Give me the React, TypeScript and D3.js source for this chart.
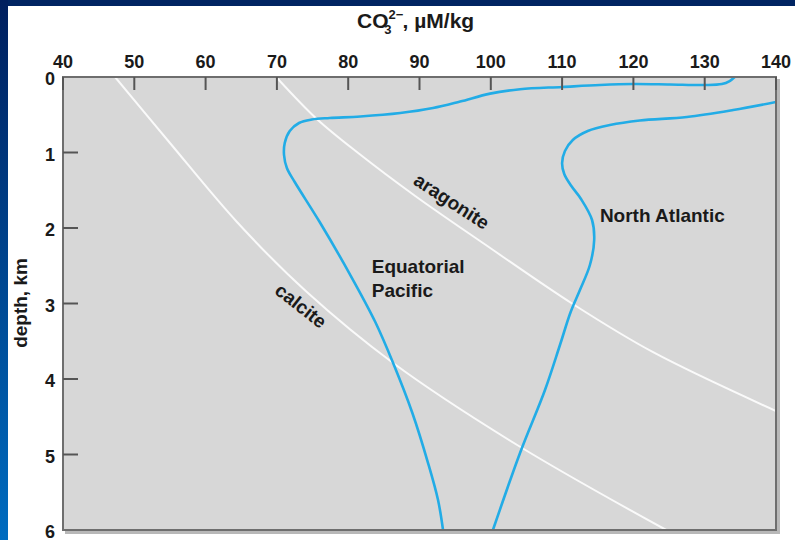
import React, { useEffect, useRef } from 'react';
import * as d3 from 'd3';

// carbonate ion concentration (µM/kg) vs depth (km)
const xTicks = [40, 50, 60, 70, 80, 90, 100, 110, 120, 130, 140];
const yTicks = [0, 1, 2, 3, 4, 5, 6];

const pacificCO3 = [134.2, 133.5, 132.4, 130.0, 125.1, 119.9, 115.3, 110.0, 104.1, 99.9, 95.7, 91.9, 87.3, 81.7, 77.4, 74.9, 73.1, 71.8, 71.1, 71.0, 71.4, 72.5, 76.0, 80.3, 83.8, 86.3, 89.0, 91.2, 92.6, 93.3];
const pacificDepth = [0, 0.053, 0.093, 0.106, 0.099, 0.093, 0.106, 0.132, 0.162, 0.22, 0.325, 0.411, 0.477, 0.523, 0.543, 0.563, 0.609, 0.715, 0.874, 1.033, 1.205, 1.391, 1.921, 2.623, 3.245, 3.788, 4.45, 5.113, 5.603, 6.0];

const atlanticCO3 = [140.0, 134.0, 127.5, 120.9, 116.7, 113.6, 111.5, 110.4, 110.0, 110.3, 111.3, 112.65, 114.2, 114.5, 113.9, 112.5, 111.2, 109.7, 107.6, 104.1, 100.3];
const atlanticDepth = [0.331, 0.437, 0.53, 0.576, 0.636, 0.715, 0.834, 0.98, 1.139, 1.285, 1.444, 1.616, 1.894, 2.159, 2.49, 2.821, 3.113, 3.55, 4.146, 4.98, 6.0];

const calciteCO3 = [47.3, 55.0, 64.4, 74.2, 86.3, 103.7, 124.6];
const calciteDepth = [0, 0.874, 1.921, 2.848, 3.788, 4.874, 6.0];

const aragoniteCO3 = [69.9, 75.6, 81.4, 89.4, 98.9, 111.5, 122.7, 140.0];
const aragoniteDepth = [0, 0.556, 1.007, 1.576, 2.199, 3.007, 3.642, 4.424];

const FONT = 'Arial, "Liberation Sans", Helvetica, sans-serif';

const App = () => {
  const svgRef = useRef<SVGSVGElement>(null);

  useEffect(() => {
    const W = 795;
    const H = 540;
    const margin = { top: 77, right: 19, bottom: 10, left: 63 };

    d3.select(svgRef.current).selectAll('*').remove();
    const svg = d3.select(svgRef.current).attr('width', W).attr('height', H);

    // slide background: navy band on top, blue gradient on the left
    const defs = svg.append('defs');
    const grad = defs
      .append('linearGradient')
      .attr('id', 'sideGrad')
      .attr('x1', 0)
      .attr('y1', 0)
      .attr('x2', 0)
      .attr('y2', 1);
    grad.append('stop').attr('offset', '0%').attr('stop-color', '#001f5e');
    grad.append('stop').attr('offset', '100%').attr('stop-color', '#006cc0');

    svg.append('rect').attr('width', W).attr('height', H).attr('fill', '#ffffff');
    svg.append('rect').attr('width', W).attr('height', 6).attr('fill', '#002462');
    svg.append('rect').attr('width', 8).attr('height', H).attr('fill', 'url(#sideGrad)');

    const x = d3.scaleLinear().domain([40, 140]).range([margin.left, W - margin.right]);
    const y = d3.scaleLinear().domain([0, 6]).range([margin.top, H - margin.bottom]);
    const [x0, x1] = x.range();
    const [y0, y1] = y.range();

    defs
      .append('clipPath')
      .attr('id', 'plotClip')
      .append('rect')
      .attr('x', x0)
      .attr('y', y0)
      .attr('width', x1 - x0)
      .attr('height', y1 - y0);

    // shadow + panel
    svg
      .append('rect')
      .attr('x', x0 + 2)
      .attr('y', y0 + 2)
      .attr('width', x1 - x0 + 2)
      .attr('height', y1 - y0 + 2)
      .attr('fill', '#b8b8b8');
    svg
      .append('rect')
      .attr('x', x0)
      .attr('y', y0)
      .attr('width', x1 - x0)
      .attr('height', y1 - y0)
      .attr('fill', '#d7d7d7');

    // curves
    const line = d3
      .line<[number, number]>()
      .x(d => x(d[0]))
      .y(d => y(d[1]))
      .curve(d3.curveCatmullRom.alpha(0.5));

    const plot = svg.append('g').attr('clip-path', 'url(#plotClip)');

    const whiteCurves = [
      d3.zip(calciteCO3, calciteDepth),
      d3.zip(aragoniteCO3, aragoniteDepth),
    ];
    plot
      .selectAll('.sat')
      .data(whiteCurves)
      .enter()
      .append('path')
      .attr('d', d => line(d as [number, number][]))
      .attr('fill', 'none')
      .attr('stroke', '#fafafa')
      .attr('stroke-width', 2);

    const blueCurves = [
      d3.zip(pacificCO3, pacificDepth),
      d3.zip(atlanticCO3, atlanticDepth),
    ];
    plot
      .selectAll('.prof')
      .data(blueCurves)
      .enter()
      .append('path')
      .attr('d', d => line(d as [number, number][]))
      .attr('fill', 'none')
      .attr('stroke', '#22ace6')
      .attr('stroke-width', 2.6)
      .attr('stroke-linejoin', 'round');

    // frame
    svg
      .append('rect')
      .attr('x', x0)
      .attr('y', y0)
      .attr('width', x1 - x0)
      .attr('height', y1 - y0)
      .attr('fill', 'none')
      .attr('stroke', '#6e6e6e')
      .attr('stroke-width', 2);

    // x axis (top, ticks inward)
    svg
      .append('g')
      .selectAll('line')
      .data(xTicks)
      .enter()
      .append('line')
      .attr('x1', d => x(d))
      .attr('x2', d => x(d))
      .attr('y1', y0)
      .attr('y2', y0 + 13)
      .attr('stroke', '#555')
      .attr('stroke-width', 2);

    svg
      .append('g')
      .selectAll('text')
      .data(xTicks)
      .enter()
      .append('text')
      .attr('x', d => x(d))
      .attr('y', 68)
      .attr('text-anchor', 'middle')
      .style('font-family', FONT)
      .style('font-weight', 'bold')
      .style('font-size', '18px')
      .attr('fill', '#1a1a1a')
      .text(d => d);

    // y axis (left, ticks inward)
    svg
      .append('g')
      .selectAll('line')
      .data(yTicks.slice(1, -1))
      .enter()
      .append('line')
      .attr('x1', x0)
      .attr('x2', x0 + 15)
      .attr('y1', d => y(d))
      .attr('y2', d => y(d))
      .attr('stroke', '#555')
      .attr('stroke-width', 2);

    svg
      .append('g')
      .selectAll('text')
      .data(yTicks)
      .enter()
      .append('text')
      .attr('x', 55)
      .attr('y', d => y(d) + 8)
      .attr('text-anchor', 'end')
      .style('font-family', FONT)
      .style('font-weight', 'bold')
      .style('font-size', '18px')
      .attr('fill', '#1a1a1a')
      .text(d => d);

    // titles
    const title = svg
      .append('text')
      .attr('x', 357)
      .attr('y', 28)
      .style('font-family', FONT)
      .style('font-weight', 'bold')
      .style('font-size', '21px')
      .attr('fill', '#1a1a1a');
    title.append('tspan').text('CO');
    title.append('tspan').attr('dy', -9).style('font-size', '13px').text('2−');
    title.append('tspan').attr('dx', -19).attr('dy', 15).style('font-size', '13px').text('3');
    title.append('tspan').attr('dx', 11).attr('dy', -6).text(', µM/kg');

    svg
      .append('text')
      .attr('transform', `translate(27, 303) rotate(-90)`)
      .attr('text-anchor', 'middle')
      .style('font-family', FONT)
      .style('font-weight', 'bold')
      .style('font-size', '19px')
      .attr('fill', '#1a1a1a')
      .text('depth, km');

    // curve labels
    const lbl = (text: string, cx: number, cy: number, angle: number, anchor: string) =>
      svg
        .append('text')
        .attr('transform', `translate(${x(cx)}, ${y(cy)}) rotate(${angle})`)
        .attr('text-anchor', anchor)
        .style('font-family', FONT)
        .style('font-weight', 'bold')
        .style('font-size', '19px')
        .attr('fill', '#1a1a1a')
        .text(text);

    lbl('aragonite', 94.0, 1.72, 33, 'middle');
    lbl('calcite', 72.8, 3.1, 38, 'middle');
    lbl('Equatorial', 83.3, 2.6, 0, 'start');
    lbl('Pacific', 83.3, 2.91, 0, 'start');
    lbl('North Atlantic', 115.3, 1.92, 0, 'start');
  }, []);

  return <svg ref={svgRef} style={{ position: 'fixed', left: 0, top: 0 }}></svg>;
};

export default App;
